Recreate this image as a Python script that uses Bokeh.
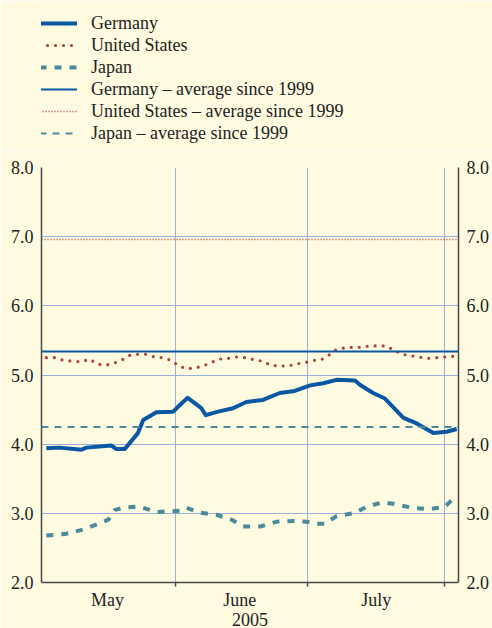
import pandas as pd
from bokeh.plotting import figure
from bokeh.layouts import column
from bokeh.models import FixedTicker, Legend, LegendItem, LinearAxis, Range1d, NumeralTickFormatter
from bokeh.embed import file_html
from bokeh.resources import INLINE

# ---- data (days since 1 May 2005) ----
germany_day = [1.6, 4.6, 9.6, 10.7, 16.4, 17.5, 19.4, 22.4, 23.6, 26.6, 30.4, 31.5, 33.7,
               36.8, 37.8, 40.6, 44.0, 47.0, 50.8, 54.6, 58.0, 61.5, 64.5, 67.5, 71.7,
               72.8, 75.8, 78.5, 82.7, 85.7, 89.5, 92.5, 94.8]
germany_val = [3.94, 3.95, 3.92, 3.95, 3.98, 3.93, 3.93, 4.16, 4.35, 4.46, 4.47, 4.54, 4.67,
               4.52, 4.42, 4.47, 4.52, 4.61, 4.64, 4.74, 4.77, 4.85, 4.88, 4.93, 4.92,
               4.86, 4.74, 4.66, 4.38, 4.30, 4.16, 4.18, 4.22]

us_day = [1.6, 3.6, 5.5, 7.6, 9.5, 11.4, 13.1, 15.0, 16.9, 18.6, 20.3, 22.2, 24.2, 26.2,
          28.1, 30.0, 31.5, 33.3, 35.3, 37.2, 39.0, 40.9, 42.9, 44.8, 46.8, 48.8, 50.7,
          52.6, 54.6, 56.5, 58.4, 60.4, 62.2, 64.0, 65.6, 67.3, 69.2, 71.1, 73.0, 75.0,
          76.9, 78.8, 80.5, 82.4, 84.3, 86.2, 88.1, 90.1, 92.1, 94.1]
us_val = [5.25, 5.25, 5.21, 5.20, 5.19, 5.23, 5.16, 5.14, 5.17, 5.21, 5.28, 5.30, 5.30, 5.26,
          5.25, 5.21, 5.14, 5.09, 5.10, 5.13, 5.18, 5.23, 5.24, 5.26, 5.25, 5.22, 5.20,
          5.14, 5.13, 5.13, 5.16, 5.18, 5.21, 5.22, 5.28, 5.36, 5.39, 5.40, 5.40, 5.42,
          5.42, 5.42, 5.36, 5.30, 5.28, 5.26, 5.24, 5.25, 5.26, 5.27]

japan_day = [1.6, 5.8, 9.6, 13.1, 15.7, 17.2, 19.1, 22.4, 25.1, 26.6, 30.0, 32.3, 33.4,
             36.4, 40.2, 43.6, 46.2, 50.2, 54.0, 57.7, 60.7, 63.0, 64.9, 67.5, 71.3,
             74.6, 78.0, 81.0, 84.7, 88.5, 92.0, 94.5]
japan_val = [2.68, 2.70, 2.76, 2.84, 2.91, 3.05, 3.08, 3.10, 3.05, 3.02, 3.03, 3.04, 3.08,
             3.01, 2.98, 2.91, 2.81, 2.81, 2.88, 2.89, 2.88, 2.85, 2.85, 2.96, 3.00,
             3.10, 3.16, 3.13, 3.08, 3.06, 3.09, 3.24]

series_names = ["Germany", "United States", "Japan"]
avg_names = ["Germany – average since 1999", "United States – average since 1999",
             "Japan – average since 1999"]
avg_vals = [5.34, 6.96, 4.25]

month_labels = ["May", "June", "July"]
month_mid = [15.5, 45.5, 76.5]
month_start = [0, 31, 61, 92]
y_ticks = [2, 3, 4, 5, 6, 7, 8]
year_label = "2005"

X0, X1 = 0.5, 95.2

BG = "#FEFBE0"
BLUE = "#0A57A3"
RED = "#B0403A"
TEAL = "#4A8A9B"
GRID = "#9DAEDD"
AXIS = "#4A4A4A"
TXT = "#222222"
FONT = "Liberation Serif"
FS = "18px"

series_styles = [dict(line_color=BLUE, line_width=4, line_join="round"),
                 dict(line_color=RED, line_width=3.2, line_dash="0 8", line_cap="round"),
                 dict(line_color=TEAL, line_width=4, line_dash="7 8")]
avg_styles = [dict(line_color=BLUE, line_width=2),
              dict(line_color=RED, line_width=1.6, line_dash="1 2"),
              dict(line_color=TEAL, line_width=2, line_dash="7 6")]
series_data = [(germany_day, germany_val), (us_day, us_val), (japan_day, japan_val)]

LEG_H = 150

# ---------------- main chart ----------------
p = figure(width=492, height=628 - LEG_H, output_backend="svg", toolbar_location=None,
           x_range=Range1d(X0, X1), y_range=Range1d(2, 8),
           background_fill_color=BG, border_fill_color=BG,
           min_border_left=41, min_border_right=32, min_border_top=167 - LEG_H,
           min_border_bottom=46, outline_line_color=None)

for (xs, ys), st in zip(series_data, series_styles):
    p.line(xs, ys, **st)
for v, st in zip(avg_vals, avg_styles):
    p.line([X0, X1], [v, v], **st)

p.xaxis.ticker = FixedTicker(ticks=month_mid, minor_ticks=month_start)
p.xaxis.major_label_overrides = {m: l for m, l in zip(month_mid, month_labels)}
p.xaxis.major_tick_out = 0
p.xaxis.major_tick_in = 0
p.xaxis.minor_tick_out = 4
p.xaxis.minor_tick_in = 0
p.xaxis.minor_tick_line_color = AXIS
p.xaxis.minor_tick_line_width = 1.5
p.xaxis.axis_label = year_label
p.xaxis.axis_label_standoff = 0
p.xaxis.major_label_standoff = 3

p.yaxis.ticker = FixedTicker(ticks=y_ticks)
p.yaxis.formatter = NumeralTickFormatter(format="0.0")
p.yaxis.major_tick_out = 0
p.yaxis.major_tick_in = 0
p.yaxis.minor_tick_line_color = None
p.yaxis.major_label_standoff = 8

ry = LinearAxis(ticker=FixedTicker(ticks=y_ticks), formatter=NumeralTickFormatter(format="0.0"),
                major_tick_out=0, major_tick_in=0, minor_tick_line_color=None,
                major_label_standoff=8)
p.add_layout(ry, "right")

for ax in [p.xaxis[0], p.yaxis[0], ry]:
    ax.axis_line_color = AXIS
    ax.axis_line_width = 1.5
    ax.major_label_text_font = FONT
    ax.major_label_text_font_size = FS
    ax.major_label_text_color = TXT
p.xaxis.axis_label_text_font = FONT
p.xaxis.axis_label_text_font_size = FS
p.xaxis.axis_label_text_font_style = "normal"
p.xaxis.axis_label_text_color = TXT

p.xgrid.ticker = FixedTicker(ticks=month_start)
p.ygrid.ticker = FixedTicker(ticks=y_ticks)
for g in [p.xgrid[0], p.ygrid[0]]:
    g.grid_line_color = GRID
    g.grid_line_width = 1

# ---------------- legend panel ----------------
lg = figure(width=492, height=LEG_H, output_backend="svg", toolbar_location=None,
            x_range=Range1d(X0, X1), y_range=Range1d(100, 101),
            x_axis_location=None, y_axis_location=None,
            background_fill_color=BG, border_fill_color=BG, outline_line_color=None,
            min_border_left=0, min_border_right=0, min_border_top=0, min_border_bottom=0)
lg.grid.visible = False
items = []
for name, (xs, ys), st in zip(series_names, series_data, series_styles):
    items.append(LegendItem(label=name, renderers=[lg.line(xs, ys, **st)]))
for name, v, st in zip(avg_names, avg_vals, avg_styles):
    items.append(LegendItem(label=name, renderers=[lg.line([X0, X1], [v, v], **st)]))

legend = Legend(items=items, location=(-2, LEG_H - 144), padding=0, margin=0, spacing=0,
                glyph_width=38, glyph_height=22, label_height=22, label_standoff=14,
                label_text_font=FONT, label_text_font_size=FS, label_text_color=TXT,
                background_fill_alpha=0, border_line_alpha=0)
lg.add_layout(legend, "center")

layout = column(lg, p, spacing=0)
open("out.html", "w").write(file_html(layout, INLINE))
